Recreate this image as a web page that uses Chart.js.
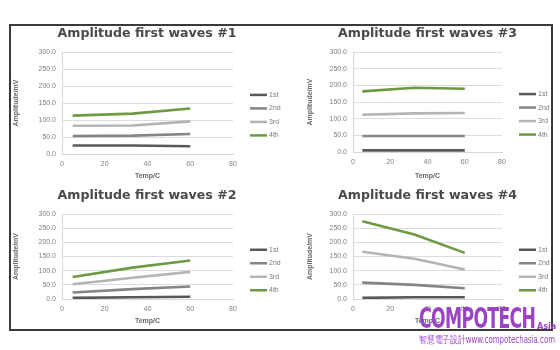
<!DOCTYPE html>
<html>
<head>
<meta charset="utf-8">
<script src="https://cdn.jsdelivr.net/npm/chart.js@4.4.0/dist/chart.umd.min.js"></script>
<style>
  body { margin: 0; width: 560px; height: 350px; background: #fff; position: relative; overflow: hidden; font-family: "Liberation Sans", Arial, sans-serif; }
  #frame { position: absolute; left: 9px; top: 24px; width: 540px; height: 303px; border: 2px solid #3a3a3a; }
  .box { position: absolute; }
  #brand { position: absolute; left: 419px; top: 301px; color: #9a44c4; font-family: "DejaVu Sans Condensed", "DejaVu Sans", sans-serif; font-weight: bold; }
  #brand .big { font-size: 29px; display: inline-block; transform: scaleX(0.66); transform-origin: left bottom; letter-spacing: -1px; }
  #brand .asia { position: absolute; left: 118px; top: 20px; font-size: 9px; }
  #brand .sub { position: absolute; left: 0px; top: 32px; font-size: 10px; font-weight: normal; white-space: nowrap; transform: scaleX(0.78); transform-origin: left top; }
</style>
</head>
<body>
<div id="frame"></div>
<div class="box" id="b1" style="left:10px;top:25px;width:274px;height:157px"><canvas id="c1"></canvas></div>
<div class="box" id="b3" style="left:304px;top:25px;width:247px;height:157px"><canvas id="c3"></canvas></div>
<div class="box" id="b2" style="left:10px;top:182px;width:274px;height:145px"><canvas id="c2"></canvas></div>
<div class="box" id="b4" style="left:304px;top:182px;width:247px;height:145px"><canvas id="c4"></canvas></div>
<div id="brand"><span class="big">COMPOTECH</span><span class="asia">Asia</span><span class="sub">智慧電子設計www.compotechasia.com</span></div>
<script>
// temperatures (x) shared by every chart
const temps = [5, 33, 60];
const seriesNames = ["1st", "2nd", "3rd", "4th"];
const seriesColors = ["#585858", "#858585", "#b4b4b4", "#6e9a42"];
const xTicks = [0, 20, 40, 60, 80];
const yTicks = [0, 50, 100, 150, 200, 250, 300];

// wave #1
const w1First = [25, 25, 23];
const w1Second = [53, 54, 59];
const w1Third = [83, 84, 96];
const w1Fourth = [113, 119, 134];
// wave #2
const w2First = [4, 6, 8];
const w2Second = [23, 35, 44];
const w2Third = [52, 75, 96];
const w2Fourth = [78, 111, 136];
// wave #3
const w3First = [5, 5, 5];
const w3Second = [48, 48, 48];
const w3Third = [112, 116, 117];
const w3Fourth = [182, 193, 190];
// wave #4
const w4First = [4, 6, 6];
const w4Second = [58, 50, 38];
const w4Third = [167, 142, 104];
const w4Fourth = [275, 228, 163];

const tickFont = { family: "Liberation Sans", size: 7 };
const labelFont = { family: "Liberation Sans", size: 7, weight: "bold" };

// legend drawn beside the plot, lines + labels taken from the datasets
const sideLegend = {
  id: "sideLegend",
  afterDraw(chart) {
    const { ctx, chartArea } = chart;
    const y0 = chartArea.top + (chartArea.bottom - chartArea.top) * 0.42;
    ctx.save();
    ctx.font = "7px 'Liberation Sans'";
    ctx.textBaseline = "middle";
    chart.data.datasets.forEach((ds, i) => {
      const y = y0 + i * 13.5;
      const x = chartArea.right + 17;
      ctx.strokeStyle = ds.borderColor;
      ctx.lineWidth = 2.5;
      ctx.beginPath();
      ctx.moveTo(x, y);
      ctx.lineTo(x + 17, y);
      ctx.stroke();
      ctx.fillStyle = "#7a7a7a";
      ctx.fillText(ds.label, x + 19, y);
    });
    ctx.restore();
  }
};

function makeChart(id, title, values, opt) {
  const datasets = values.map((vals, i) => ({
    label: seriesNames[i],
    data: vals.map((v, j) => ({ x: temps[j], y: v })),
    borderColor: seriesColors[i],
    backgroundColor: seriesColors[i],
    borderWidth: 2.6,
    pointRadius: 0,
    tension: 0
  }));
  return new Chart(document.getElementById(id), {
    type: "line",
    data: { datasets },
    plugins: [sideLegend],
    options: {
      responsive: true,
      maintainAspectRatio: false,
      animation: false,
      layout: { padding: 0 },
      plugins: {
        legend: { display: false },
        tooltip: { enabled: false },
        title: {
          display: true,
          text: title,
          color: "#4a4a4a",
          font: { family: "DejaVu Sans", size: 12.6, weight: "bold", lineHeight: 1.2 },
          padding: { top: opt.titleTop, bottom: opt.titleBottom }
        }
      },
      scales: {
        x: {
          type: "linear",
          min: 0,
          max: 80,
          afterBuildTicks: (s) => { s.ticks = xTicks.map(v => ({ value: v })); },
          afterFit: (s) => { s.height = opt.xHeight; },
          grid: { display: false, drawTicks: false },
          border: { color: "#d8d8d8" },
          ticks: { color: "#808080", font: tickFont, padding: 6 },
          title: { display: true, text: "Temp/C", color: "#666", font: labelFont, padding: { top: 0, bottom: 2 } }
        },
        y: {
          min: 0,
          max: 300,
          afterBuildTicks: (s) => { s.ticks = yTicks.map(v => ({ value: v })); },
          afterFit: (s) => { s.width = opt.yWidth; },
          grid: { color: "#dcdcdc", drawTicks: false },
          border: { color: "#d8d8d8" },
          ticks: { color: "#808080", font: tickFont, padding: 6, callback: (v) => v.toFixed(1) },
          title: { display: true, text: "Amplitude/mV", color: "#666", font: labelFont, padding: { top: 2, bottom: 0 } }
        },
        // empty right-hand box that keeps room for the legend
        side: {
          position: "right",
          min: 0,
          max: 300,
          afterFit: (s) => { s.width = opt.sideWidth; },
          grid: { display: false, drawTicks: false },
          border: { display: false },
          ticks: { display: false }
        }
      }
    }
  });
}

makeChart("c1", "Amplitude first waves #1", [w1First, w1Second, w1Third, w1Fourth],
  { sideWidth: 51, titleTop: 1, titleBottom: 11, xHeight: 28, yWidth: 52 });
makeChart("c3", "Amplitude first waves #3", [w3First, w3Second, w3Third, w3Fourth],
  { sideWidth: 49, titleTop: 1, titleBottom: 11, xHeight: 30, yWidth: 49 });
makeChart("c2", "Amplitude first waves #2", [w2First, w2Second, w2Third, w2Fourth],
  { sideWidth: 51, titleTop: 6, titleBottom: 11, xHeight: 28, yWidth: 52 });
makeChart("c4", "Amplitude first waves #4", [w4First, w4Second, w4Third, w4Fourth],
  { sideWidth: 49, titleTop: 6, titleBottom: 11, xHeight: 28, yWidth: 49 });
</script>
</body>
</html>
